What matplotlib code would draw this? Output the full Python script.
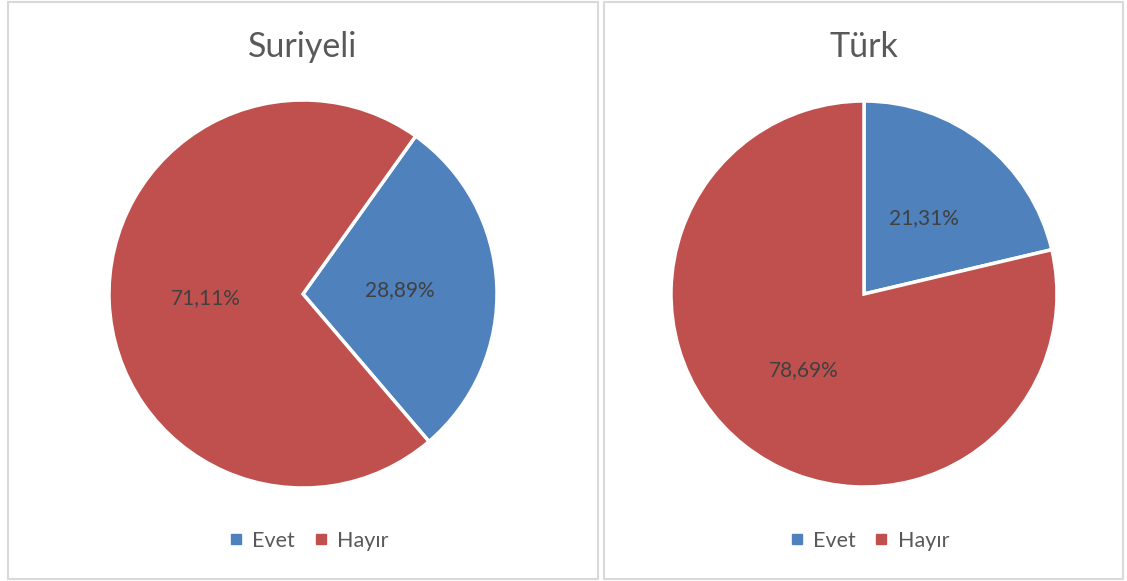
import matplotlib.pyplot as plt
from matplotlib.patches import Rectangle
from matplotlib.lines import Line2D

plt.rcParams['font.family'] = ['Lato', 'DejaVu Sans']

# veriler
categories = ['Evet', 'Hayır']
titles = ['Suriyeli', 'Türk']
suriyeli_values = [28.89, 71.11]
turk_values = [21.31, 78.69]
colors = ['#4F81BD', '#C0504D']

W, H = 1127, 581
fig = plt.figure(figsize=(W / 100, H / 100), dpi=100)
fig.patch.set_facecolor('white')

# (kutu x0, x1), pasta merkezi, yaricap, baslangic acisi
panels = [
    dict(title=titles[0], values=suriyeli_values, box=(8, 598), cx=303, cy=294, r=194, start=54.5),
    dict(title=titles[1], values=turk_values, box=(604, 1123), cx=864, cy=294, r=193, start=90),
]

for p in panels:
    x0, x1 = p['box']
    fig.patches.append(Rectangle((x0 / W, 1 - 579 / H), (x1 - x0) / W, 577 / H,
                                 transform=fig.transFigure, fill=False,
                                 edgecolor='#d9d9d9', linewidth=1.5))

    r = p['r']
    ax = fig.add_axes([(p['cx'] - r) / W, (H - p['cy'] - r) / H, 2 * r / W, 2 * r / H])
    wedges, texts, autotexts = ax.pie(
        p['values'], colors=colors, startangle=p['start'], counterclock=False,
        autopct=lambda v: f"{v:.2f}%".replace('.', ','), pctdistance=0.5,
        wedgeprops=dict(edgecolor='white', linewidth=2.5),
        textprops=dict(color='#404040', fontsize=15))
    ax.set_xlim(-1, 1)
    ax.set_ylim(-1, 1)
    ax.set_aspect('equal')
    ax.axis('off')

    xc = (x0 + x1) / 2 / W
    fig.text(xc, 1 - 47 / H, p['title'], ha='center', va='center',
             fontsize=24.5, color='#595959')

    handles = [Line2D([], [], marker='s', linestyle='', markersize=7,
                      markerfacecolor=c, markeredgecolor=c) for c in colors]
    fig.legend(handles, categories, loc='center', bbox_to_anchor=(xc + 4 / W, 1 - 541 / H),
               ncol=2, frameon=False, fontsize=15.5, labelcolor='#595959',
               handletextpad=0.25, columnspacing=0.7, handlelength=1.0)

fig.savefig('out.png', dpi=100, facecolor='white')
